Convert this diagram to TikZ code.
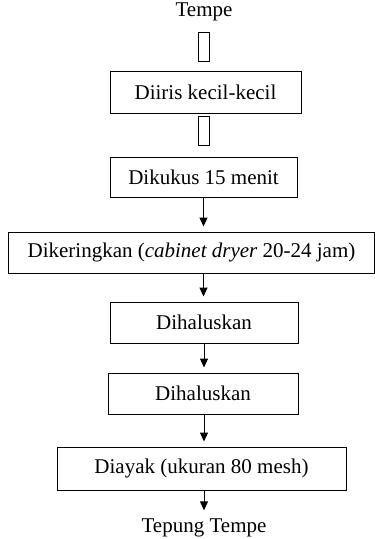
\documentclass[tikz,border=0pt]{standalone}
\usepackage{fontspec}
\setmainfont{Liberation Serif}
\usetikzlibrary{arrows.meta}

\begin{document}
\begin{tikzpicture}[x=1pt,y=-1pt,
  every node/.style={font=\fontsize{21}{25}\selectfont},
  kotak/.style={draw,line width=1pt,inner sep=0pt,minimum height=41pt},
  celah/.style={draw,line width=1pt,inner sep=0pt,minimum width=11pt,minimum height=29pt},
  panah/.style={line width=1pt,-{Triangle[width=8pt,length=9pt]},shorten >=5pt}]
\useasboundingbox (0,0) rectangle (375,539);
% bahan awal
\node (tempe) at (204,12) {Tempe};
\node[celah] (celah1) at (203.5,46.5) {};
\node[kotak,minimum width=191pt,minimum height=42pt] (iris) at (205.5,92) {Diiris kecil-kecil};
\node[celah] (celah2) at (203.5,130.5) {};
\node[kotak,minimum width=187pt,minimum height=40pt] (kukus) at (203.5,177) {Dikukus 15 menit};
\node[kotak,minimum width=366pt] (kering) at (191.5,252.5) {Dikeringkan (\textit{cabinet dryer} 20-24 jam)};
\node[kotak,minimum width=188pt] (halus1) at (204,322.5) {Dihaluskan};
\node[kotak,minimum width=190pt] (halus2) at (203,393.5) {Dihaluskan};
\node[kotak,minimum width=289pt,minimum height=43pt] (ayak) at (201.5,468.5) {Diayak (ukuran 80 mesh)};
\node (tepung) at (204,528) {Tepung Tempe};
% panah
\draw[panah] (kukus.south) -- (kukus.south |- kering.north);
\draw[panah] (kukus.south |- kering.south) -- (kukus.south |- halus1.north);
\draw[panah] (halus1.south) -- (halus1.south |- halus2.north);
\draw[panah] (halus1.south |- halus2.south) -- (halus1.south |- ayak.north);
\draw[panah] (halus1.south |- ayak.south) -- (halus1.south |- tepung.north);
\end{tikzpicture}
\end{document}
